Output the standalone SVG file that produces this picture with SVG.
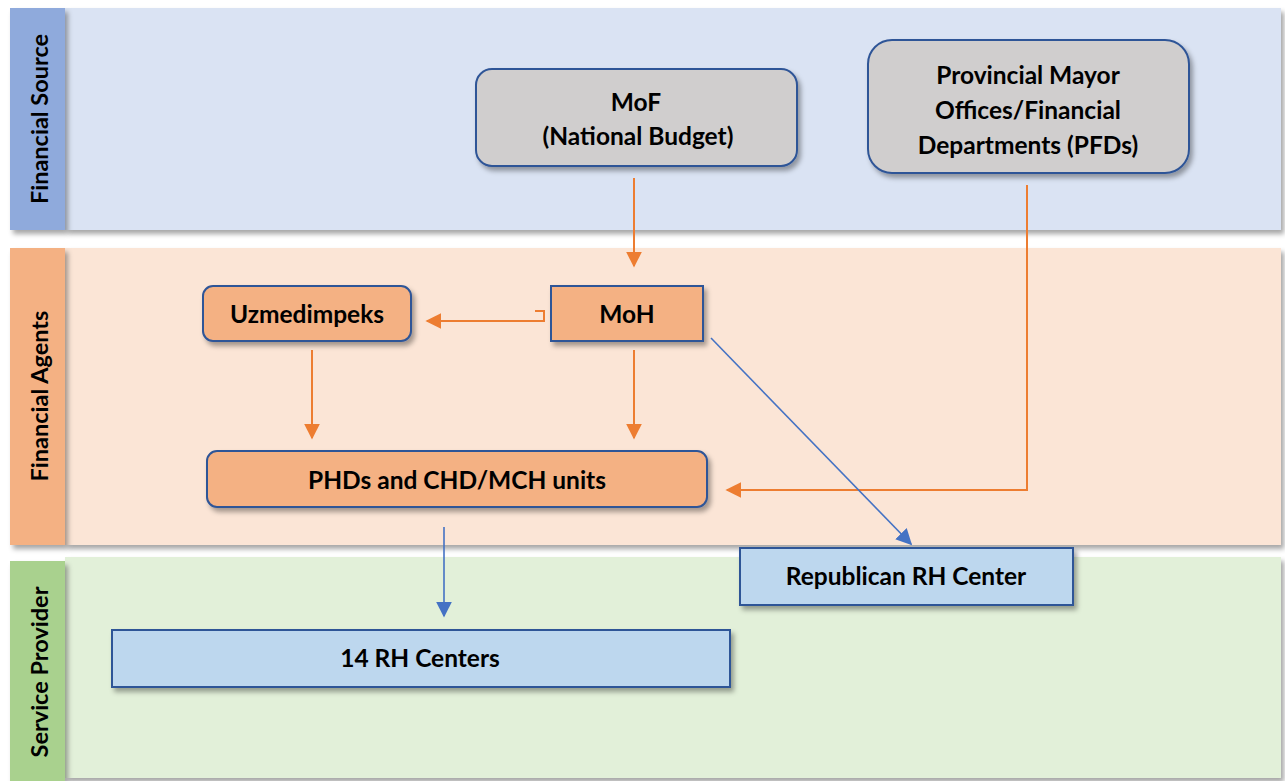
<svg xmlns="http://www.w3.org/2000/svg" width="1285" height="781" viewBox="0 0 1285 781">
<style>
text{font-family:Lato,"Open Sans","Liberation Sans",sans-serif;font-weight:bold;fill:#000;text-anchor:middle}
.t{font-size:24.5px}
.lane{font-size:23.5px}
.nd{stroke:#2f5597;stroke-width:2;filter:url(#sh)}
.gray{fill:#d0cece}
.org{fill:#f4b183}
.lb{fill:#bdd7ee}
.ol{stroke:#ed7d31;stroke-width:2;fill:none}
.bl{stroke:#4472c4;stroke-width:1.6;fill:none}
</style>
<defs>
<filter id="sh" x="-10%" y="-10%" width="125%" height="140%">
<feDropShadow dx="3" dy="4" stdDeviation="2.5" flood-color="#000" flood-opacity="0.35"/>
</filter>
<marker id="ab" viewBox="0 0 10 10" refX="9" refY="5" markerWidth="10" markerHeight="10" orient="auto" markerUnits="strokeWidth"><path d="M0,0 L10,5 L0,10 z" fill="#4472c4"/></marker>
<marker id="ao2" viewBox="0 0 10 10" refX="9" refY="5" markerWidth="8" markerHeight="8" orient="auto" markerUnits="strokeWidth"><path d="M0,0 L10,5 L0,10 z" fill="#ed7d31"/></marker>
</defs>
<rect width="1285" height="781" fill="#fff"/>
<g id="lane-source">
<rect x="65" y="8" width="1216" height="222" fill="#dae3f3" filter="url(#sh)"/>
<rect x="10" y="8" width="55" height="222" fill="#8faadc" filter="url(#sh)"/>
<text class="lane" transform="translate(48,119) rotate(-90)">Financial Source</text>
</g>
<g id="lane-agents">
<rect x="65" y="248" width="1216" height="297" fill="#fbe5d6" filter="url(#sh)"/>
<rect x="10" y="248" width="55" height="297" fill="#f4b183" filter="url(#sh)"/>
<text class="lane" transform="translate(48,396) rotate(-90)">Financial Agents</text>
</g>
<g id="lane-provider">
<rect x="65" y="557" width="1216" height="221" fill="#e2f0d9" filter="url(#sh)"/>
<rect x="10" y="561" width="55" height="220" fill="#a9d18e" filter="url(#sh)"/>
<text class="lane" transform="translate(48,672) rotate(-90)">Service Provider</text>
</g>
<g id="connectors">
<path class="ol" d="M634,178 V266" marker-end="url(#ao2)"/>
<path class="ol" d="M1027,185 V490 H727" marker-end="url(#ao2)"/>
<path class="ol" d="M535,311 H544 V321 H427" marker-end="url(#ao2)"/>
<path class="ol" d="M312,350 V438" marker-end="url(#ao2)"/>
<path class="ol" d="M634,350 V438" marker-end="url(#ao2)"/>
<path class="bl" d="M444,527 V616" marker-end="url(#ab)"/>
<path class="bl" d="M711,338 L911,544" marker-end="url(#ab)"/>
</g>
<g id="mof">
<rect class="nd gray" x="476" y="69" width="321" height="97" rx="16"/>
<text class="t" x="636" y="111">MoF</text>
<text class="t" x="638" y="145">(National Budget)</text>
</g>
<g id="pfds">
<rect class="nd gray" x="868" y="40" width="321" height="133" rx="24"/>
<text class="t" x="1028" y="84">Provincial Mayor</text>
<text class="t" x="1028" y="119">Offices/Financial</text>
<text class="t" x="1028" y="154">Departments (PFDs)</text>
</g>
<g id="uzmedimpeks">
<rect class="nd org" x="203" y="286" width="208" height="55" rx="10"/>
<text class="t" x="307" y="323">Uzmedimpeks</text>
</g>
<g id="moh">
<rect class="nd org" x="551" y="286" width="152" height="55"/>
<text class="t" x="627" y="323">MoH</text>
</g>
<g id="phds">
<rect class="nd org" x="207" y="451" width="500" height="56" rx="10"/>
<text class="t" x="457" y="489">PHDs and CHD/MCH units</text>
</g>
<g id="republican">
<rect class="nd lb" x="740" y="548" width="333" height="57"/>
<text class="t" x="906" y="585">Republican RH Center</text>
</g>
<g id="rh14">
<rect class="nd lb" x="112" y="630" width="618" height="57"/>
<text class="t" x="420" y="667">14 RH Centers</text>
</g>
</svg>
